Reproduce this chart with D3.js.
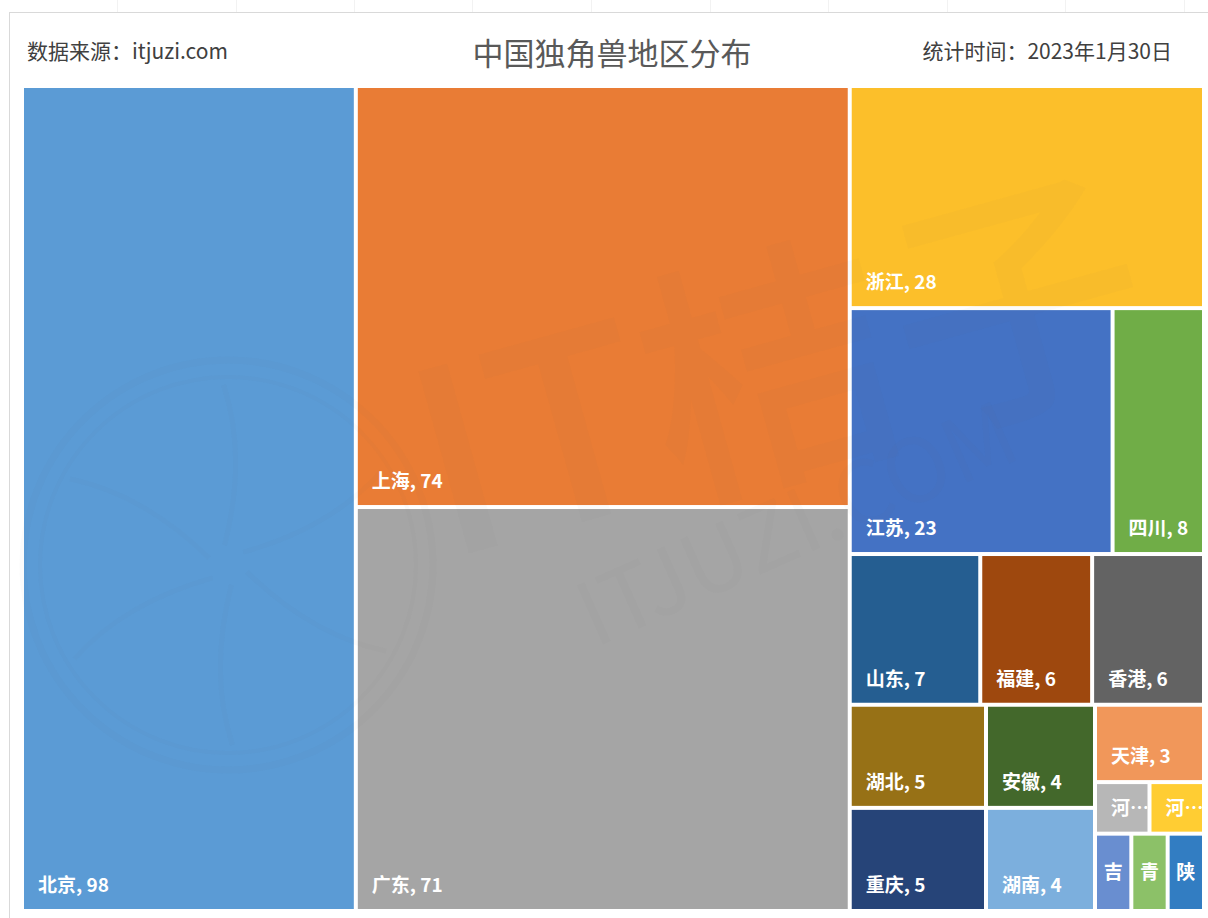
<!DOCTYPE html>
<html>
<head>
<meta charset="utf-8">
<script src="https://cdn.jsdelivr.net/npm/d3@7"></script>
<style>
  html, body { margin: 0; padding: 0; background: #ffffff; }
  svg { display: block; }
</style>
</head>
<body>
<svg id="chart" width="1208" height="918"></svg>
<script>
// ---- data ----
const regions = ["北京","上海","广东","浙江","江苏","四川","山东","福建","香港","湖北","重庆","安徽","湖南","天津","河北","河南","吉林","青海","陕西"];
const counts  = [98, 74, 71, 28, 23, 8, 7, 6, 6, 5, 5, 4, 4, 3, 1, 1, 1, 1, 1];
const palette = ["#5B9BD5","#E97C35","#A5A5A5","#FCBF2A","#4472C4","#70AD47","#255E91","#9E480E","#636363","#977116","#264478","#43682B","#7CAFDD","#F1975A","#B7B7B7","#FFCD33","#698ED0","#8CC168","#327DC2"];
const titleText = "中国独角兽地区分布";
const sourceText = "数据来源：itjuzi.com";
const dateText = "统计时间：2023年1月30日";

// Excel-like tiling structure (indices into regions); "x" = split horizontally, "y" = split vertically
const tiling = {dir: "x", children: [
  0,
  {dir: "y", children: [1, 2]},
  {dir: "y", children: [
    3,
    {dir: "x", children: [4, 5]},
    {dir: "x", children: [6, 7, 8]},
    {dir: "x", children: [
      {dir: "y", children: [9, 10]},
      {dir: "y", children: [11, 12]},
      {dir: "y", children: [13, {dir: "x", children: [14, 15]}, {dir: "x", children: [16, 17, 18]}]}
    ]}
  ]}
]};

function build(n) {
  if (typeof n === "number") return {name: regions[n], value: counts[n], idx: n};
  return {dir: n.dir, children: n.children.map(build)};
}

const svg = d3.select("#chart");
const W = 1208, H = 918;

// frame
svg.append("line").attr("x1", 9).attr("x2", W).attr("y1", 12.5).attr("y2", 12.5)
  .attr("stroke", "#d9d9d9").attr("stroke-width", 1);
svg.append("line").attr("x1", 9.5).attr("x2", 9.5).attr("y1", 12).attr("y2", H)
  .attr("stroke", "#d9d9d9").attr("stroke-width", 1);
const tickXs = [117, 236, 354, 472, 591, 710, 828, 947, 1065, 1184];
svg.selectAll("line.tk").data(tickXs).join("line").attr("class", "tk")
  .attr("x1", d => d + 0.5).attr("x2", d => d + 0.5).attr("y1", 0).attr("y2", 12)
  .attr("stroke", "#f2f2f2").attr("stroke-width", 1);

// header
const cjk = "'Noto Sans CJK SC', 'Noto Sans', sans-serif";
svg.append("text").attr("x", 612).attr("y", 65).attr("text-anchor", "middle")
  .attr("font-family", cjk).attr("font-size", 31).attr("fill", "#595959").text(titleText);
svg.append("text").attr("x", 27).attr("y", 59).attr("text-anchor", "start")
  .attr("font-family", cjk).attr("font-size", 21).attr("fill", "#404040").text(sourceText);
svg.append("text").attr("x", 1172).attr("y", 59).attr("text-anchor", "end")
  .attr("font-family", cjk).attr("font-size", 21).attr("fill", "#404040").text(dateText);

// treemap
const X0 = 24, Y0 = 88, TW = 1178, TH = 821;
const root = d3.hierarchy(build(tiling)).sum(d => d.children ? 0 : d.value);
d3.treemap()
  .size([TW, TH])
  .paddingInner(4)
  .tile((node, x0, y0, x1, y1) => (node.data.dir === "x" ? d3.treemapDice : d3.treemapSlice)(node, x0, y0, x1, y1))
  (root);

const g = svg.append("g").attr("transform", `translate(${X0},${Y0})`);
const leaves = root.leaves();
const defs = svg.append("defs");
leaves.forEach((d, i) => {
  defs.append("clipPath").attr("id", "clip" + i).append("rect")
    .attr("x", d.x0).attr("y", d.y0).attr("width", d.x1 - d.x0).attr("height", d.y1 - d.y0);
});

g.selectAll("rect.cell").data(leaves).join("rect").attr("class", "cell")
  .attr("x", d => d.x0).attr("y", d => d.y0)
  .attr("width", d => d.x1 - d.x0).attr("height", d => d.y1 - d.y0)
  .attr("fill", d => palette[d.data.idx]);

// watermark (very faint)
const wm = g.append("g").attr("pointer-events", "none");
const wmColor = "#7f7f7f";
const op = 0.028;
wm.append("circle").attr("cx", 228 - X0).attr("cy", 565 - Y0).attr("r", 205)
  .attr("fill", "none").attr("stroke", wmColor).attr("stroke-opacity", op).attr("stroke-width", 7);
wm.append("circle").attr("cx", 228 - X0).attr("cy", 565 - Y0).attr("r", 188)
  .attr("fill", "none").attr("stroke", wmColor).attr("stroke-opacity", op).attr("stroke-width", 4);
[20, 80, 140, 200, 260, 320].forEach(a => {
  const r = a * Math.PI / 180;
  wm.append("path")
    .attr("d", `M${228 - X0 + 20 * Math.cos(r)},${565 - Y0 + 20 * Math.sin(r)} Q${228 - X0 + 110 * Math.cos(r + 0.35)},${565 - Y0 + 110 * Math.sin(r + 0.35)} ${228 - X0 + 180 * Math.cos(r + 0.15)},${565 - Y0 + 180 * Math.sin(r + 0.15)}`)
    .attr("fill", "none").attr("stroke", wmColor).attr("stroke-opacity", op).attr("stroke-width", 5);
});
wm.append("text").attr("transform", `translate(${445 - X0},${560 - Y0}) rotate(-15.5)`)
  .attr("font-family", cjk).attr("font-size", 256).attr("font-weight", 500)
  .attr("fill", wmColor).attr("fill-opacity", op).text("IT桔子");
wm.append("text").attr("transform", `translate(${595 - X0},${648 - Y0}) rotate(-24)`)
  .attr("font-family", cjk).attr("font-size", 88)
  .attr("fill", wmColor).attr("fill-opacity", op).text("ITJUZI.COM");

// labels
const labels = g.selectAll("g.lab").data(leaves).join("g").attr("class", "lab")
  .attr("clip-path", (d, i) => `url(#clip${i})`);
labels.each(function(d) {
  const sel = d3.select(this);
  const w = d.x1 - d.x0, h = d.y1 - d.y0;
  const t = sel.append("text")
    .attr("font-family", cjk).attr("font-size", 19).attr("font-weight", 700)
    .attr("fill", "#ffffff");
  const full = d.data.name + ", " + d.data.value;
  t.text(full);
  const len = t.node().getComputedTextLength();
  if (len <= w - 16) {
    t.attr("x", d.x0 + 14).attr("y", d.y1 - 17);
  } else if (w >= 40) {
    t.text(d.data.name[0] + "…").attr("x", d.x0 + 14).attr("y", d.y1 - 17);
  } else {
    t.text(d.data.name[0]).attr("text-anchor", "middle")
      .attr("x", (d.x0 + d.x1) / 2).attr("y", (d.y0 + d.y1) / 2 + 7);
  }
});
</script>
</body>
</html>
